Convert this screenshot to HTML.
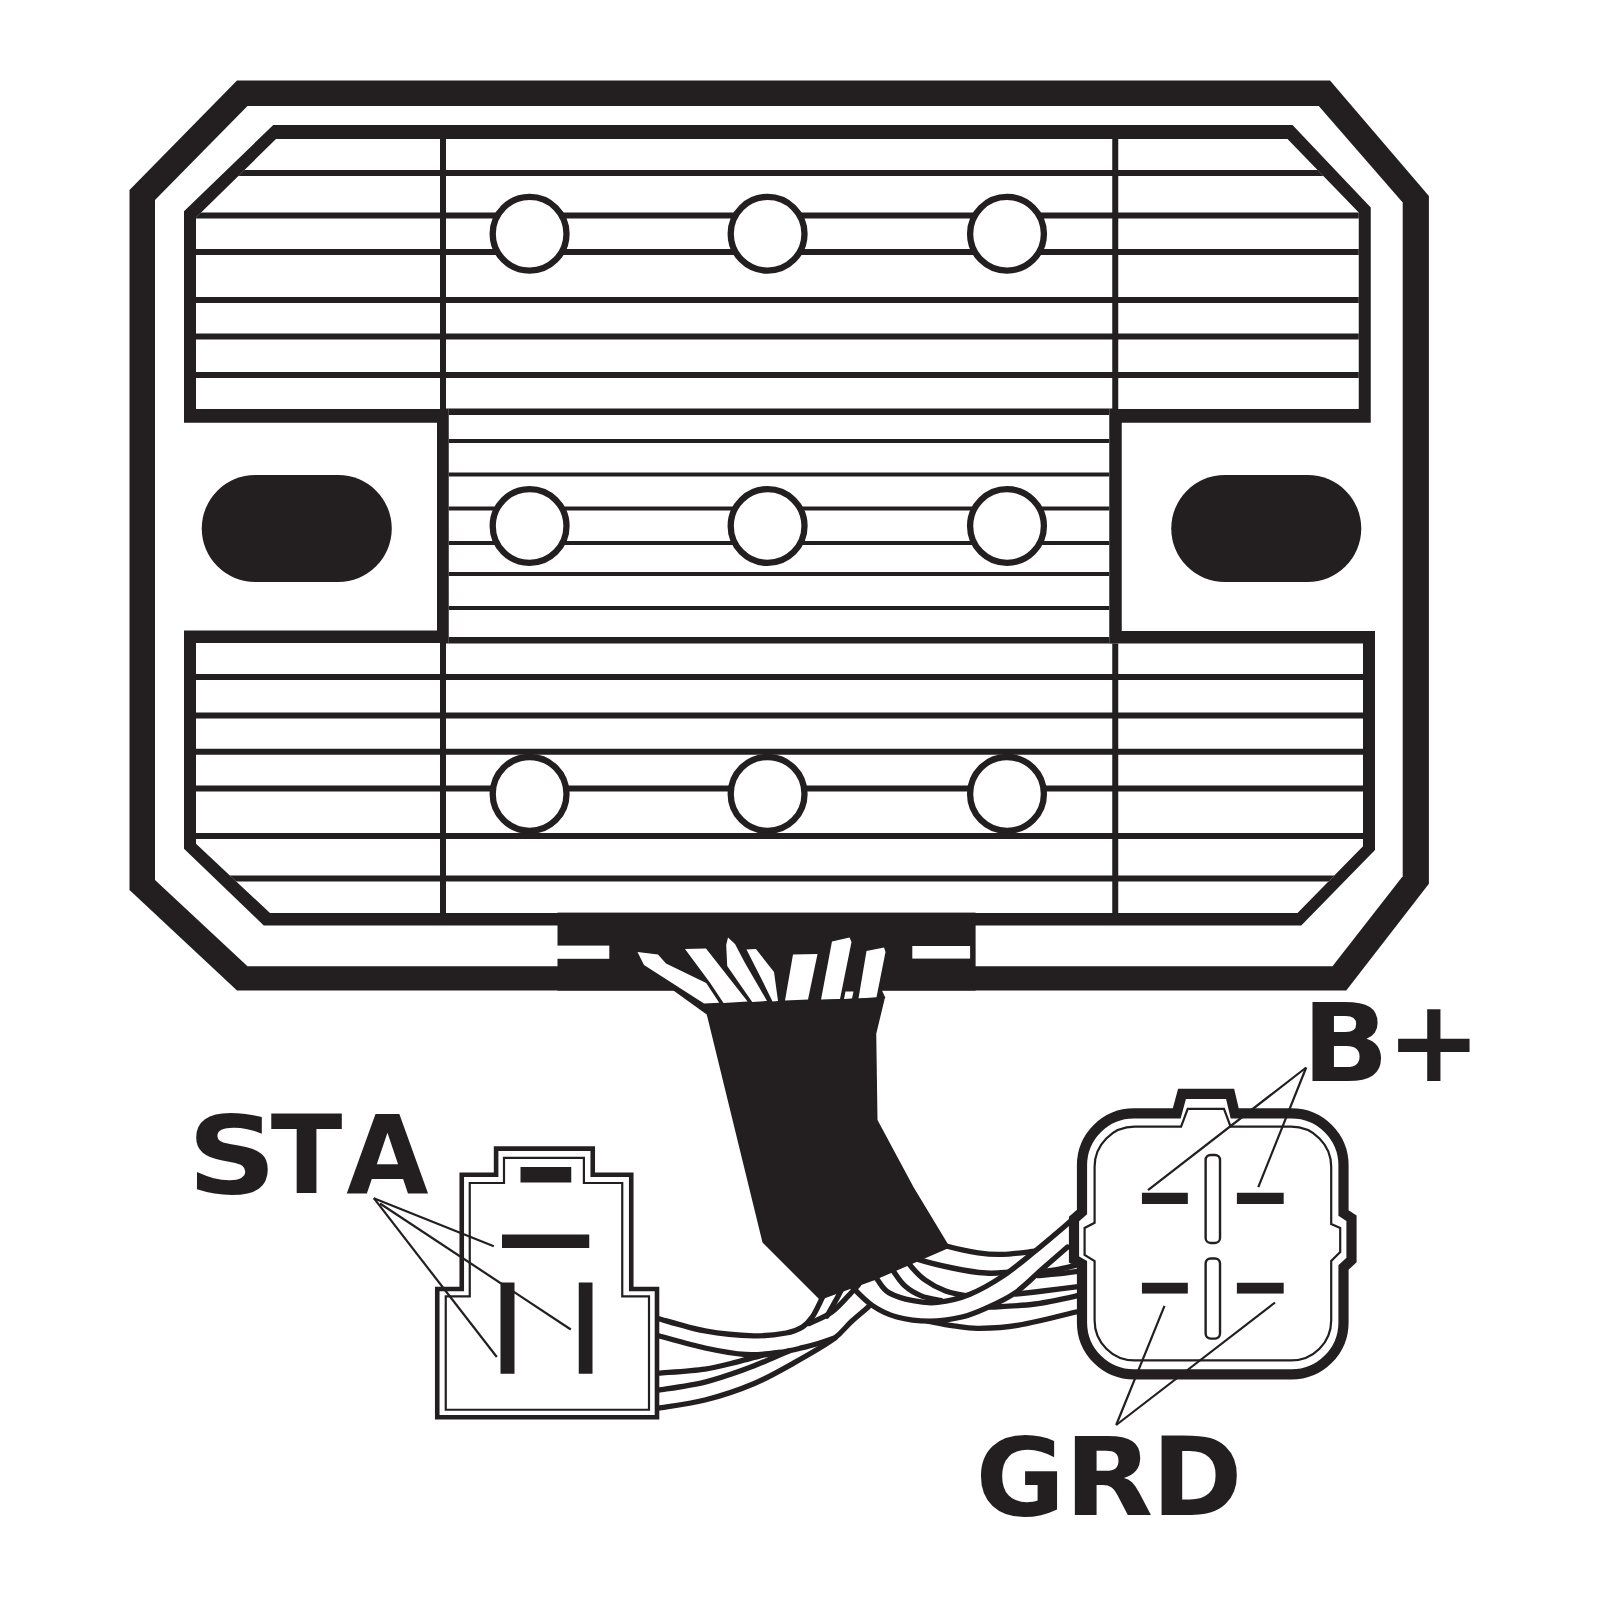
<!DOCTYPE html>
<html lang="en">
<head>
<meta charset="utf-8">
<title>Regulator rectifier wiring diagram</title>
<style>
html,body{margin:0;padding:0;background:#fff;}
body{width:1600px;height:1600px;overflow:hidden;}
svg{display:block;}
text{font-family:"DejaVu Sans","Liberation Sans",sans-serif;font-weight:bold;fill:#231f20;}
</style>
</head>
<body>
<svg width="1600" height="1600" viewBox="0 0 1600 1600">
<rect width="1600" height="1600" fill="#fff"/>
<polygon points="237.00,80.50 1330.00,80.50 1428.90,196.00 1428.90,883.75 1346.25,990.50 237.00,990.50 129.50,890.00 129.50,190.00" fill="#231f20"/>
<polygon points="247.50,106.00 1318.75,106.00 1402.70,202.50 1402.70,876.25 1332.50,966.25 247.50,966.25 155.00,880.00 155.00,200.00" fill="#fff"/>
<polygon points="273.25,125.00 1292.50,125.00 1370.75,207.50 1370.75,422.75 1121.75,422.75 1121.75,631.00 1375.00,631.00 1375.00,850.00 1301.25,925.50 263.75,925.50 184.00,848.75 184.00,630.50 437.00,630.50 437.00,422.75 184.00,422.75 184.00,211.25" fill="#231f20"/>
<polygon points="276.00,139.00 1287.50,139.00 1358.75,212.50 1358.75,409.00 1109.25,409.00 1109.25,643.50 1363.00,643.50 1363.00,846.25 1297.50,913.00 270.00,913.00 196.00,843.75 196.00,643.00 448.75,643.00 448.75,409.00 196.00,409.00 196.00,217.50" fill="#fff"/>
<clipPath id="hs"><polygon points="276.00,139.00 1287.50,139.00 1358.75,212.50 1358.75,409.00 1109.25,409.00 1109.25,643.50 1363.00,643.50 1363.00,846.25 1297.50,913.00 270.00,913.00 196.00,843.75 196.00,643.00 448.75,643.00 448.75,409.00 196.00,409.00 196.00,217.50"/></clipPath>
<g clip-path="url(#hs)">
<line x1="180.00" y1="173.00" x2="1380.00" y2="173.00" stroke="#231f20" stroke-width="6.1"/>
<line x1="180.00" y1="215.50" x2="1380.00" y2="215.50" stroke="#231f20" stroke-width="6.1"/>
<line x1="180.00" y1="252.00" x2="1380.00" y2="252.00" stroke="#231f20" stroke-width="6.1"/>
<line x1="180.00" y1="300.00" x2="1380.00" y2="300.00" stroke="#231f20" stroke-width="6.1"/>
<line x1="180.00" y1="336.50" x2="1380.00" y2="336.50" stroke="#231f20" stroke-width="6.1"/>
<line x1="180.00" y1="375.00" x2="1380.00" y2="375.00" stroke="#231f20" stroke-width="6.1"/>
<line x1="180.00" y1="677.00" x2="1380.00" y2="677.00" stroke="#231f20" stroke-width="6.1"/>
<line x1="180.00" y1="715.50" x2="1380.00" y2="715.50" stroke="#231f20" stroke-width="6.1"/>
<line x1="180.00" y1="751.75" x2="1380.00" y2="751.75" stroke="#231f20" stroke-width="6.1"/>
<line x1="180.00" y1="788.50" x2="1380.00" y2="788.50" stroke="#231f20" stroke-width="6.1"/>
<line x1="180.00" y1="836.00" x2="1380.00" y2="836.00" stroke="#231f20" stroke-width="6.1"/>
<line x1="180.00" y1="878.50" x2="1380.00" y2="878.50" stroke="#231f20" stroke-width="6.1"/>
<line x1="443.00" y1="441.00" x2="1115.50" y2="441.00" stroke="#231f20" stroke-width="4"/>
<line x1="443.00" y1="474.50" x2="1115.50" y2="474.50" stroke="#231f20" stroke-width="4"/>
<line x1="443.00" y1="508.50" x2="1115.50" y2="508.50" stroke="#231f20" stroke-width="4"/>
<line x1="443.00" y1="543.00" x2="1115.50" y2="543.00" stroke="#231f20" stroke-width="4"/>
<line x1="443.00" y1="574.00" x2="1115.50" y2="574.00" stroke="#231f20" stroke-width="4"/>
<line x1="443.00" y1="608.00" x2="1115.50" y2="608.00" stroke="#231f20" stroke-width="4"/>
<line x1="443.00" y1="411.75" x2="1115.50" y2="411.75" stroke="#231f20" stroke-width="6.5"/>
<line x1="443.00" y1="640.25" x2="1115.50" y2="640.25" stroke="#231f20" stroke-width="6.5"/>
<line x1="443.00" y1="132.00" x2="443.00" y2="409.00" stroke="#231f20" stroke-width="6.0"/>
<line x1="443.00" y1="643.00" x2="443.00" y2="919.00" stroke="#231f20" stroke-width="6.0"/>
<line x1="1115.25" y1="132.00" x2="1115.25" y2="409.00" stroke="#231f20" stroke-width="6.0"/>
<line x1="1115.25" y1="643.00" x2="1115.25" y2="919.00" stroke="#231f20" stroke-width="6.0"/>
</g>
<circle cx="529.6" cy="233.75" r="36.9" fill="#fff" stroke="#231f20" stroke-width="6.3"/>
<circle cx="767.6" cy="233.75" r="36.9" fill="#fff" stroke="#231f20" stroke-width="6.3"/>
<circle cx="1007" cy="233.75" r="36.9" fill="#fff" stroke="#231f20" stroke-width="6.3"/>
<circle cx="529.6" cy="526" r="36.9" fill="#fff" stroke="#231f20" stroke-width="6.3"/>
<circle cx="767.6" cy="526" r="36.9" fill="#fff" stroke="#231f20" stroke-width="6.3"/>
<circle cx="1007" cy="526" r="36.9" fill="#fff" stroke="#231f20" stroke-width="6.3"/>
<circle cx="529.6" cy="793.9" r="36.9" fill="#fff" stroke="#231f20" stroke-width="6.3"/>
<circle cx="767.6" cy="793.9" r="36.9" fill="#fff" stroke="#231f20" stroke-width="6.3"/>
<circle cx="1007" cy="793.9" r="36.9" fill="#fff" stroke="#231f20" stroke-width="6.3"/>
<rect x="201.75" y="475" width="190" height="107" rx="53.5" fill="#231f20"/>
<rect x="1171.25" y="475" width="190" height="107" rx="53.5" fill="#231f20"/>
<rect x="557.5" y="912.6" width="418.1" height="78" fill="#231f20"/>
<rect x="556" y="945.6" width="53.3" height="13.2" fill="#fff"/>
<rect x="912.3" y="946" width="57.8" height="12.6" fill="#fff"/>
<polygon points="672.00,989.50 881.50,989.50 885.50,998.00 706.00,1014.00" fill="#231f20"/>
<polygon points="637.50,952.00 658.00,954.50 666.00,963.50 706.20,983.00 719.20,1002.70 704.00,1003.50 644.00,965.00" fill="#fff"/>
<polygon points="685.00,949.00 706.00,948.50 747.60,1001.60 723.50,1003.00 710.20,983.00" fill="#fff"/>
<polygon points="728.00,937.50 735.00,944.00 745.00,963.00 767.00,1001.00 752.20,1002.00 727.20,966.00 726.20,945.00" fill="#fff"/>
<polygon points="746.50,949.50 756.00,949.00 774.00,972.00 778.00,1001.00 772.50,1001.50 763.00,982.00" fill="#fff"/>
<polygon points="793.00,954.50 817.50,954.00 808.00,999.50 785.00,1000.50" fill="#fff"/>
<polygon points="832.00,941.50 849.50,937.50 851.50,942.00 840.00,999.00 821.00,999.50" fill="#fff"/>
<polygon points="845.50,991.50 853.50,991.50 852.00,998.50 844.00,999.00" fill="#fff"/>
<polygon points="866.50,951.00 884.00,947.50 885.50,952.00 876.50,997.20 858.50,998.50" fill="#fff"/>
<path d="M942.4,1243.1 C943.2,1243.6 941.3,1244.7 947.2,1246.3 C953.2,1247.9 968.9,1251.5 978.1,1252.8 C987.3,1254.2 993.0,1254.7 1002.5,1254.4 C1012.0,1254.2 1029.6,1251.7 1035.0,1251.2" fill="none" stroke="#231f20" stroke-width="5.3" stroke-linecap="round"/>
<path d="M909.9,1254.4 C911.2,1255.2 910.7,1257.0 918.0,1259.3 C925.3,1261.6 942.4,1265.9 953.7,1268.2 C965.1,1270.6 977.0,1272.4 986.2,1273.1 C995.5,1273.8 1005.2,1272.4 1009.0,1272.3" fill="none" stroke="#231f20" stroke-width="5.5" stroke-linecap="round"/>
<path d="M904.2,1255.2 C905.1,1256.9 906.5,1260.9 909.9,1265.0 C913.3,1269.1 918.5,1275.3 924.5,1279.6 C930.5,1284.0 938.6,1288.3 945.6,1291.0 C952.7,1293.7 963.2,1295.1 966.7,1295.9" fill="none" stroke="#231f20" stroke-width="5.3" stroke-linecap="round"/>
<path d="M887.9,1261.7 C888.9,1263.4 890.8,1267.4 893.6,1271.5 C896.5,1275.6 900.4,1282.1 905.0,1286.1 C909.6,1290.2 915.3,1293.5 921.2,1295.9 C927.2,1298.3 937.5,1299.7 940.7,1300.4" fill="none" stroke="#231f20" stroke-width="5.3" stroke-linecap="round"/>
<path d="M927.7,1282.1 C929.9,1283.1 935.9,1286.5 940.7,1288.6 C945.6,1290.6 954.3,1293.3 957.0,1294.2" fill="none" stroke="#231f20" stroke-width="2.5" stroke-linecap="round"/>
<path d="M1041.5,1271.5 C1044.5,1271.1 1052.6,1270.4 1059.4,1269.1 C1066.1,1267.8 1078.3,1264.6 1082.1,1263.7" fill="none" stroke="#231f20" stroke-width="5.3" stroke-linecap="round"/>
<path d="M1037.4,1275.6 C1040.8,1275.3 1050.3,1274.7 1057.7,1273.9 C1065.2,1273.1 1078.1,1271.2 1082.1,1270.7" fill="none" stroke="#231f20" stroke-width="5.3" stroke-linecap="round"/>
<path d="M1015.5,1294.2 C1020.1,1293.7 1032.0,1292.4 1043.1,1291.0 C1054.2,1289.6 1075.6,1286.9 1082.1,1286.1" fill="none" stroke="#231f20" stroke-width="5.3" stroke-linecap="round"/>
<path d="M989.5,1307.2 C997.1,1306.7 1019.6,1306.1 1035.0,1304.0 C1050.4,1301.9 1074.3,1296.3 1082.1,1294.7" fill="none" stroke="#231f20" stroke-width="5.3" stroke-linecap="round"/>
<path d="M927.7,1321.2 C932.1,1322.0 945.4,1324.7 953.7,1325.9 C962.1,1327.1 967.3,1328.5 978.1,1328.4 C989.0,1328.2 1001.4,1328.1 1018.7,1325.1 C1036.1,1322.1 1071.6,1312.9 1082.1,1310.5" fill="none" stroke="#231f20" stroke-width="5.3" stroke-linecap="round"/>
<path d="M871.7,1269.9 C872.6,1271.5 874.5,1275.8 877.4,1279.6 C880.2,1283.4 882.8,1289.1 888.7,1292.6 C894.7,1296.1 905.0,1299.1 913.1,1300.7 C921.2,1302.4 928.0,1303.5 937.5,1302.4 C947.0,1301.3 959.2,1298.6 970.0,1294.2 C980.8,1289.9 991.7,1283.5 1002.5,1276.4 C1013.3,1269.2 1023.6,1260.4 1035.0,1251.2 C1046.4,1242.0 1064.8,1226.1 1070.7,1221.1 L1067.5,1247.1 C1063.4,1250.6 1051.8,1260.7 1043.1,1268.2 C1034.5,1275.8 1025.0,1286.0 1015.5,1292.6 C1006.0,1299.3 995.2,1304.0 986.2,1308.1 C977.3,1312.1 971.4,1314.8 961.9,1317.0 C952.4,1319.2 940.2,1321.1 929.4,1321.1 C918.5,1321.1 906.4,1319.6 896.9,1317.0 C887.4,1314.4 879.8,1310.5 872.5,1305.6 C865.2,1300.7 857.2,1292.1 853.0,1287.7 C848.8,1283.4 848.3,1281.0 847.3,1279.6 Z" fill="#fff" stroke="none"/>
<path d="M871.7,1269.9 C872.6,1271.5 874.5,1275.8 877.4,1279.6 C880.2,1283.4 882.8,1289.1 888.7,1292.6 C894.7,1296.1 905.0,1299.1 913.1,1300.7 C921.2,1302.4 928.0,1303.5 937.5,1302.4 C947.0,1301.3 959.2,1298.6 970.0,1294.2 C980.8,1289.9 991.7,1283.5 1002.5,1276.4 C1013.3,1269.2 1023.6,1260.4 1035.0,1251.2 C1046.4,1242.0 1064.8,1226.1 1070.7,1221.1" fill="none" stroke="#231f20" stroke-width="5.3" stroke-linecap="round"/>
<path d="M847.3,1279.6 C848.3,1281.0 848.8,1283.4 853.0,1287.7 C857.2,1292.1 865.2,1300.7 872.5,1305.6 C879.8,1310.5 887.4,1314.4 896.9,1317.0 C906.4,1319.6 918.5,1321.1 929.4,1321.1 C940.2,1321.1 952.4,1319.2 961.9,1317.0 C971.4,1314.8 977.3,1312.1 986.2,1308.1 C995.2,1304.0 1006.0,1299.3 1015.5,1292.6 C1025.0,1286.0 1034.5,1275.8 1043.1,1268.2 C1051.8,1260.7 1063.4,1250.6 1067.5,1247.1" fill="none" stroke="#231f20" stroke-width="5.3" stroke-linecap="round"/>
<path d="M658.7,1318.7 C666.4,1320.8 689.2,1328.1 705.0,1330.9 C720.8,1333.8 740.2,1335.5 753.7,1335.8 C767.3,1336.2 778.1,1334.5 786.2,1333.0 C794.4,1331.6 798.2,1329.5 802.5,1326.9 C806.8,1324.2 809.3,1321.3 812.2,1317.1 C815.2,1312.9 818.3,1305.7 820.4,1301.7 C822.4,1297.6 823.8,1294.2 824.4,1292.7" fill="none" stroke="#231f20" stroke-width="5.3" stroke-linecap="round"/>
<path d="M658.7,1335.8 C666.4,1337.8 690.5,1344.9 705.0,1348.0 C719.5,1351.1 733.4,1353.7 745.6,1354.5 C757.8,1355.3 768.6,1353.7 778.1,1352.5 C787.6,1351.4 795.2,1349.4 802.5,1347.7 C809.8,1346.0 816.6,1343.9 822.0,1342.3 C827.4,1340.7 832.8,1338.7 835.0,1337.9" fill="none" stroke="#231f20" stroke-width="5.3" stroke-linecap="round"/>
<path d="M658.7,1373.2 C666.4,1372.5 691.9,1371.0 705.0,1369.1 C718.1,1367.2 728.3,1364.0 737.5,1361.8 C746.7,1359.6 754.0,1357.3 760.2,1355.8 C766.5,1354.3 772.4,1353.5 774.9,1353.0" fill="none" stroke="#231f20" stroke-width="5.3" stroke-linecap="round"/>
<path d="M658.7,1390.2 C666.4,1388.9 690.5,1385.6 705.0,1382.1 C719.5,1378.6 734.2,1373.2 745.6,1369.1 C757.0,1365.1 765.9,1360.8 773.2,1357.7 C780.6,1354.7 786.8,1351.9 789.5,1350.8" fill="none" stroke="#231f20" stroke-width="5.3" stroke-linecap="round"/>
<path d="M658.7,1408.1 C666.4,1406.8 689.2,1404.1 705.0,1400.0 C720.8,1395.9 738.9,1390.0 753.7,1383.7 C768.6,1377.5 781.1,1370.1 794.4,1362.6 C807.6,1355.2 823.9,1345.9 833.4,1339.1 C842.8,1332.2 845.4,1327.0 851.2,1321.7 C857.1,1316.3 865.5,1309.5 868.3,1307.0" fill="none" stroke="#231f20" stroke-width="5.3" stroke-linecap="round"/>
<path d="M809.0,1323.6 C812.8,1321.7 824.7,1317.4 831.7,1312.2 C838.8,1307.1 846.8,1297.4 851.2,1292.7 C855.7,1288.1 857.3,1286.0 858.6,1284.6" fill="none" stroke="#231f20" stroke-width="5.3" stroke-linecap="round"/>
<path d="M826.9,1316.3 C828.8,1312.9 835.7,1300.7 838.2,1296.0 C840.8,1291.3 841.6,1289.2 842.3,1287.9" fill="none" stroke="#231f20" stroke-width="5.3" stroke-linecap="round"/>
<polygon points="703.75,1005.00 885.00,997.50 876.25,1033.75 877.50,1120.00 913.75,1187.50 950.00,1247.50 875.00,1280.00 820.00,1300.00 762.50,1242.50 707.50,1017.50" fill="#231f20"/>
<polygon points="437.25,1417.25 437.25,1289.00 461.75,1289.00 461.75,1174.80 496.10,1174.80 496.10,1148.60 592.75,1148.60 592.75,1174.80 631.25,1174.80 631.25,1289.00 657.00,1289.00 657.00,1417.25" fill="#fff" stroke="#231f20" stroke-width="4.6"/>
<polygon points="445.75,1409.75 445.75,1296.40 469.75,1296.40 469.75,1183.00 504.00,1183.00 504.00,1157.80 583.90,1157.80 583.90,1183.00 622.25,1183.00 622.25,1296.40 649.00,1296.40 649.00,1409.75" fill="none" stroke="#231f20" stroke-width="2.2"/>
<rect x="520.50" y="1167.00" width="50.75" height="15.50" fill="#231f20"/>
<rect x="502.00" y="1234.50" width="87.25" height="13.50" fill="#231f20"/>
<rect x="500.50" y="1282.50" width="14.00" height="91.25" fill="#231f20"/>
<rect x="578.75" y="1282.50" width="13.75" height="91.25" fill="#231f20"/>
<path d="M1134.0,1113.3 L1176.75,1113.3 L1182,1093.8 L1230.1,1093.8 L1234.7,1113.3 L1291.5,1113.3 A52,52 0 0 1 1343.5,1165.3 L1343.5,1213 L1351.5,1218.25 L1351.5,1260 L1343.5,1267.4 L1343.5,1322.4 A52,52 0 0 1 1291.5,1374.4 L1134.0,1374.4 A52,52 0 0 1 1082.0,1322.4 L1082.0,1264 L1074.0,1259.5 L1074.0,1219 L1082.0,1212 L1082.0,1165.3 A52,52 0 0 1 1134.0,1113.3 Z" fill="#fff" stroke="#231f20" stroke-width="10.2" stroke-linejoin="miter"/>
<path d="M1181.1,1126.7 L1187.7,1108.9 L1224,1108.9 L1230.6,1126.7 L1291.2,1126.7 A40,40 0 0 1 1331.2,1166.7 L1331.2,1224 L1340.2,1228 L1340.2,1252 L1331.2,1261 L1331.2,1320.4 A40,40 0 0 1 1291.2,1360.4 L1134.6,1360.4 A40,40 0 0 1 1094.6,1320.4 L1094.6,1261 L1084.6,1255 L1084.6,1228 L1094.6,1222.75 L1094.6,1166.7 A40,40 0 0 1 1134.6,1126.7 Z" fill="none" stroke="#231f20" stroke-width="2.2"/>
<rect x="1141.94" y="1192.76" width="45.90" height="11.25" fill="#231f20"/>
<rect x="1236.89" y="1192.76" width="46.80" height="11.25" fill="#231f20"/>
<rect x="1141.94" y="1282.77" width="45.90" height="10.80" fill="#231f20"/>
<rect x="1236.89" y="1282.77" width="46.80" height="10.80" fill="#231f20"/>
<rect x="1205.62" y="1154.96" width="14.40" height="87.98" rx="5" fill="#fff" stroke="#231f20" stroke-width="2.4"/>
<rect x="1205.62" y="1258.47" width="14.40" height="80.11" rx="5" fill="#fff" stroke="#231f20" stroke-width="2.4"/>
<line x1="373.8" y1="1198.2" x2="493.8" y2="1246.2" stroke="#231f20" stroke-width="2.2"/>
<line x1="380.0" y1="1203.5" x2="570.8" y2="1329.5" stroke="#231f20" stroke-width="2.2"/>
<line x1="373.8" y1="1198.2" x2="496.8" y2="1357.0" stroke="#231f20" stroke-width="2.2"/>
<line x1="1306.2" y1="1067.5" x2="1148.0" y2="1190.1" stroke="#231f20" stroke-width="2.2"/>
<line x1="1306.2" y1="1067.5" x2="1258.3" y2="1187.1" stroke="#231f20" stroke-width="2.2"/>
<line x1="1116.2" y1="1425.0" x2="1164.5" y2="1305.8" stroke="#231f20" stroke-width="2.2"/>
<line x1="1116.2" y1="1425.0" x2="1275.0" y2="1302.5" stroke="#231f20" stroke-width="2.2"/>
<text y="1193.1" font-size="109.5"><tspan x="187.28" textLength="89.68" lengthAdjust="spacingAndGlyphs">S</tspan><tspan x="270.87" textLength="71.66" lengthAdjust="spacingAndGlyphs">T</tspan><tspan x="346.17" textLength="82.35" lengthAdjust="spacingAndGlyphs">A</tspan></text>
<text y="1080.8" font-size="109.5"><tspan x="1302.00" textLength="87.02" lengthAdjust="spacingAndGlyphs">B</tspan><tspan x="1385.99" textLength="95.70" lengthAdjust="spacingAndGlyphs" font-size="113.5">+</tspan></text>
<text y="1515.4" font-size="109.5"><tspan x="975.39" textLength="89.62" lengthAdjust="spacingAndGlyphs">G</tspan><tspan x="1064.36" textLength="89.05" lengthAdjust="spacingAndGlyphs">R</tspan><tspan x="1151.50" textLength="91.12" lengthAdjust="spacingAndGlyphs">D</tspan></text>
</svg>
</body>
</html>
